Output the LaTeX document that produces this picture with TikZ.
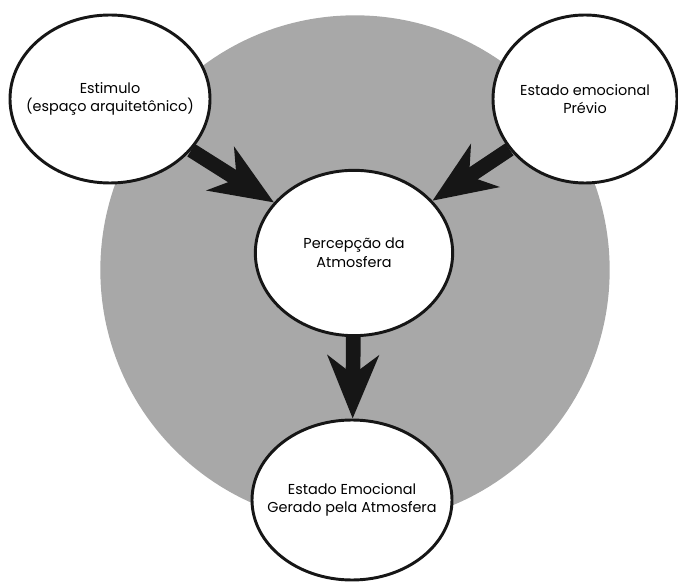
\documentclass[tikz,border=0pt]{standalone}
\usepackage{fontspec}
\setmainfont{Poppins}
\usetikzlibrary{arrows.meta,shapes.geometric}
\definecolor{fundo}{RGB}{168,168,168}
\definecolor{tinta}{RGB}{22,22,22}
\tikzset{
  bolha/.style={%
    draw=tinta,ellipse,fill=white,
    line width=2.2pt,align=center,
    inner xsep=-20pt,inner ysep=-10pt,
    font=\fontsize{10.8}{14}\selectfont,
  },
  seta/.style={%
    draw=tinta,line width=11pt,
    -{Stealth[length=47pt,width=38pt,inset=14pt]},
  },
}
\begin{document}
\begin{tikzpicture}[x=0.75pt,y=-0.75pt]
\useasboundingbox (0,0) rectangle (678,584);
% fundo: a atmosfera
\node[circle,fill=fundo,minimum size=382pt,inner sep=0pt] (atmosfera) at (355,270) {};
% bolhas
\node[bolha,minimum width=150pt,minimum height=126pt] (estimulo) at (110,99) {Estimulo\\(espaço arquitetônico)};
\node[bolha,minimum width=138pt,minimum height=126pt] (previo) at (585,99) {Estado emocional\\Prévio};
\node[bolha,minimum width=148pt,minimum height=124pt] (percepcao) at (354,253) {Percepção da\\Atmosfera};
\node[bolha,minimum width=150pt,minimum height=120pt] (gerado) at (352,500) {Estado Emocional\\Gerado pela Atmosfera};
% setas
\draw[seta] (estimulo) -- (percepcao);
\draw[seta] (previo) -- (percepcao);
\draw[seta] (percepcao) -- (gerado);
\end{tikzpicture}
\end{document}
